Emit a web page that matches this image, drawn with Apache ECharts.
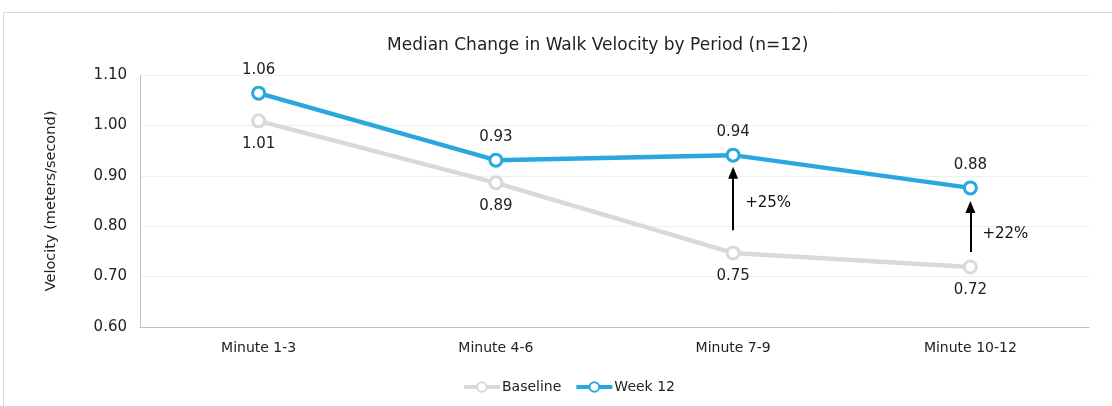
<!DOCTYPE html>
<html><head><meta charset="utf-8">
<script src="https://cdn.jsdelivr.net/npm/echarts@6/dist/echarts.min.js"></script>
<style>html,body{margin:0;padding:0;background:#fff}#c{width:1112px;height:406px}</style>
</head><body><div id="c"></div>
<script>
const categories = ['Minute 1-3', 'Minute 4-6', 'Minute 7-9', 'Minute 10-12'];
const baseline = [1.009, 0.886, 0.747, 0.719];
const week12 = [1.064, 0.931, 0.941, 0.876];
const yTicks = { min: 0.6, max: 1.1, interval: 0.1 };
// annotation arrows: category, from value, to value, label, label value
const arrowCats = ['Minute 7-9', 'Minute 10-12'];
const arrowFrom = [0.792, 0.749];
const arrowTo = [0.906, 0.838];
const arrowLabels = ['+25%', '+22%'];
const arrowLabelY = [0.846, 0.785];

const font = 'DejaVu Sans, Verdana, sans-serif';
const chart = echarts.init(document.getElementById('c'), null, { renderer: 'canvas' });
const symbolStyle = (c) => ({ color: '#fff', borderColor: c, borderWidth: 3 });
chart.setOption({
  animation: false,
  graphic: [{ type: 'rect', z: -10, shape: { x: 3.5, y: 12.5, width: 3000, height: 3000 }, style: { fill: 'none', stroke: '#d9d9d9', lineWidth: 1 } }],
  title: {
    text: 'Median Change in Walk Velocity by Period (n=12)',
    left: 382, top: 32,
    textStyle: { fontFamily: font, fontSize: 17, fontWeight: 'normal', color: '#222' }
  },
  legend: {
    left: 462, top: 380, padding: 0, itemWidth: 36, itemHeight: 12, itemGap: 13,
    textStyle: { fontFamily: font, fontSize: 14, color: '#222', padding: [0, 0, 0, -3] },
    data: [
      { name: 'Baseline', lineStyle: { width: 4, color: '#d9d9d9' } },
      { name: 'Week 12', lineStyle: { width: 4, color: '#29a8df' } }
    ]
  },
  grid: { left: 140, right: 23, top: 75, bottom: 79 },
  xAxis: {
    type: 'category', data: categories, boundaryGap: true,
    axisLine: { lineStyle: { color: '#bfbfbf', width: 1 } },
    axisTick: { show: false },
    axisLabel: { fontFamily: font, fontSize: 14, color: '#222', margin: 14 }
  },
  yAxis: {
    type: 'value', min: yTicks.min, max: yTicks.max, interval: yTicks.interval,
    name: 'Velocity (meters/second)', nameLocation: 'middle', nameGap: 81,
    nameTextStyle: { fontFamily: font, fontSize: 14.5, color: '#222' },
    axisLine: { show: true, lineStyle: { color: '#bfbfbf', width: 1 } },
    axisTick: { show: false },
    splitLine: { lineStyle: { color: '#efefef', width: 1 } },
    axisLabel: { fontFamily: font, fontSize: 15, color: '#222', margin: 13, formatter: v => v.toFixed(2) }
  },
  series: [
    {
      name: 'Baseline', type: 'line', data: baseline,
      symbol: 'circle', symbolSize: 12, showAllSymbol: true,
      lineStyle: { color: '#d9d9d9', width: 4.5 },
      itemStyle: symbolStyle('#d9d9d9'),
      label: { show: true, position: 'bottom', distance: 8, fontFamily: font, fontSize: 15, color: '#222', formatter: p => p.value.toFixed(2) },
      z: 2
    },
    {
      name: 'Week 12', type: 'line', data: week12,
      symbol: 'circle', symbolSize: 12, showAllSymbol: true,
      lineStyle: { color: '#29a8df', width: 4.5 },
      itemStyle: symbolStyle('#29a8df'),
      label: { show: true, position: 'top', distance: 8, fontFamily: font, fontSize: 15, color: '#222', formatter: p => p.value.toFixed(2) },
      markLine: {
        silent: true, symbol: ['none', 'triangle'], symbolSize: [10, 12],
        lineStyle: { color: '#000', width: 2, type: 'solid' },
        itemStyle: { color: '#000' },
        label: { show: false },
        data: arrowCats.map((c, i) => [{ coord: [c, arrowFrom[i]] }, { coord: [c, arrowTo[i]] }])
      },
      z: 3
    },
    {
      name: 'annot', type: 'scatter', symbolSize: 0, silent: true,
      itemStyle: { opacity: 1 },
      data: arrowCats.map((c, i) => ({ value: [c, arrowLabelY[i]], name: arrowLabels[i] })),
      label: { show: true, position: 'right', distance: 12, fontFamily: font, fontSize: 15, color: '#111', formatter: p => p.name }
    }
  ]
});
</script></body></html>
